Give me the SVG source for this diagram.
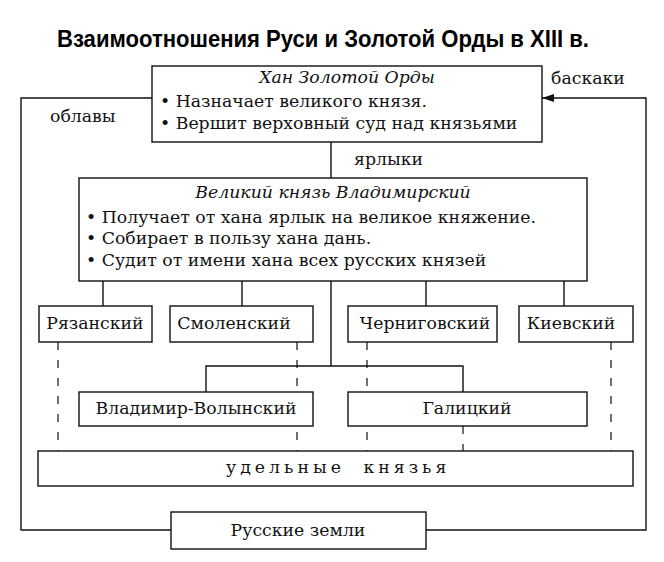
<svg xmlns="http://www.w3.org/2000/svg" width="664" height="562" viewBox="0 0 664 562">
<style>
.box{fill:#fff;stroke:#111;stroke-width:1.4}
.ln{fill:none;stroke:#111;stroke-width:1.4}
.dash{fill:none;stroke:#111;stroke-width:1.2;stroke-dasharray:8 10}
.t{font-family:"DejaVu Serif","Liberation Serif",serif;font-size:17.3px;fill:#111}
.ti{font-family:"DejaVu Serif","Liberation Serif",serif;font-size:17.3px;font-style:italic;fill:#111}
.c{text-anchor:middle}
.h{font-family:"Liberation Sans","Arial",sans-serif;font-weight:bold;font-size:24px;fill:#000}
</style>
<defs>
<marker id="arr" viewBox="0 0 12 8" refX="12" refY="4" markerWidth="12" markerHeight="8" markerUnits="userSpaceOnUse" orient="auto">
<path d="M0,0 L12,4 L0,8 z" fill="#111"/>
</marker>
</defs>
<rect width="664" height="562" fill="#fff"/>
<text class="h" x="57" y="47" textLength="532" lengthAdjust="spacingAndGlyphs">Взаимоотношения Руси и Золотой Орды в XIII в.</text>

<g id="connectors">
<polyline class="ln" points="152,98 21,98 21,530 171,530"/>
<polyline class="ln" points="426,530 646,530 646,98 542,98" marker-end="url(#arr)"/>
<line class="ln" x1="331" y1="142" x2="331" y2="178"/>
<line class="ln" x1="331" y1="281" x2="331" y2="366"/>
<line class="ln" x1="103" y1="281" x2="103" y2="306"/>
<line class="ln" x1="242" y1="281" x2="242" y2="306"/>
<line class="ln" x1="426" y1="281" x2="426" y2="306"/>
<line class="ln" x1="564" y1="281" x2="564" y2="306"/>
<polyline class="ln" points="206,392 206,366 463,366 463,392"/>
<line class="dash" x1="58" y1="342" x2="58" y2="451"/>
<line class="dash" x1="297" y1="342" x2="297" y2="451"/>
<line class="dash" x1="367" y1="342" x2="367" y2="451"/>
<line class="dash" x1="611" y1="342" x2="611" y2="451"/>
<line class="dash" x1="463" y1="426" x2="463" y2="451" stroke-dasharray="0 4 21 10"/>
<text class="t" x="551" y="84">баскаки</text>
<text class="t" x="50" y="122">облавы</text>
<text class="t" x="354" y="165">ярлыки</text>
</g>

<g id="khan">
<rect class="box" x="152" y="66" width="390" height="76"/>
<text class="ti c" x="347" y="83">Хан Золотой Орды</text>
<text class="t" x="160" y="107">• Назначает великого князя.</text>
<text class="t" x="160" y="129">• Вершит верховный суд над князьями</text>
</g>

<g id="vladimir">
<rect class="box" x="79" y="178" width="508" height="103"/>
<text class="ti c" x="333" y="198">Великий князь Владимирский</text>
<text class="t" x="86" y="223">• Получает от хана ярлык на великое княжение.</text>
<text class="t" x="86" y="244">• Собирает в пользу хана дань.</text>
<text class="t" x="86" y="266">• Судит от имени хана всех русских князей</text>
</g>

<g id="ryazan">
<rect class="box" x="39" y="306" width="113" height="36"/>
<text class="t c" x="95" y="329">Рязанский</text>
</g>
<g id="smolensk">
<rect class="box" x="170" y="306" width="143" height="36"/>
<text class="t c" x="234" y="329">Смоленский</text>
</g>
<g id="chernigov">
<rect class="box" x="348" y="306" width="149" height="36"/>
<text class="t c" x="425" y="329">Черниговский</text>
</g>
<g id="kiev">
<rect class="box" x="519" y="306" width="114" height="36"/>
<text class="t c" x="571" y="329">Киевский</text>
</g>
<g id="vv">
<rect class="box" x="79" y="392" width="234" height="34"/>
<text class="t c" x="196" y="414">Владимир-Волынский</text>
</g>
<g id="galich">
<rect class="box" x="348" y="392" width="239" height="34"/>
<text class="t c" x="467" y="414">Галицкий</text>
</g>
<g id="udelnye">
<rect class="box" x="38" y="451" width="595" height="35"/>
<text class="t" x="226" y="473" letter-spacing="4" word-spacing="9">удельные князья</text>
</g>
<g id="russkie">
<rect class="box" x="171" y="512" width="255" height="37"/>
<text class="t c" x="298" y="536">Русские земли</text>
</g>
</svg>
